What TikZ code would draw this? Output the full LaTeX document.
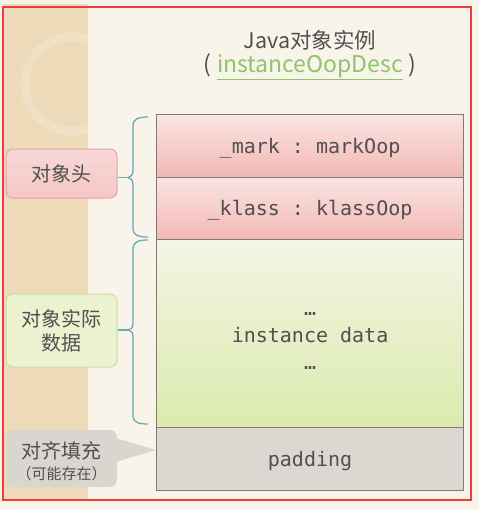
\documentclass[tikz,border=0pt]{standalone}
\usepackage{fontspec}
\setmainfont{Noto Sans CJK SC}
\setmonofont{DejaVu Sans Mono}
\usetikzlibrary{calc}
\definecolor{bg}{HTML}{F8F4EA}
\definecolor{tanstrip}{HTML}{ECDAB8}
\definecolor{ringc}{HTML}{F2E5CC}
\definecolor{frame}{HTML}{F03C3C}
\definecolor{boxline}{HTML}{7C7A76}
\definecolor{txt}{HTML}{505050}
\definecolor{pinkT}{HTML}{FBE4E2}
\definecolor{pinkB}{HTML}{F2B8B4}
\definecolor{greenT}{HTML}{F2F5E4}
\definecolor{greenB}{HTML}{DCEAAE}
\definecolor{padfill}{HTML}{DCD8D1}
\definecolor{lblpink}{HTML}{F5C6C6}
\definecolor{lblpinkline}{HTML}{E6A3A3}
\definecolor{lblgreen}{HTML}{EAF2D0}
\definecolor{lblgreenline}{HTML}{CBDF9F}
\definecolor{callfill}{HTML}{D9D5CF}
\definecolor{bracec}{HTML}{6BAAB9}
\definecolor{linkgreen}{HTML}{8DC46C}
\tikzset{
  cell/.style={draw=boxline, line width=1.1pt, minimum width=307pt, inner sep=0pt,
    font=\ttfamily\fontsize{20}{27}\selectfont, text=txt, anchor=north west, align=center},
  celltext/.style={font=\ttfamily\fontsize{20}{27}\selectfont, text=txt, align=center, inner sep=0pt},
  lbl/.style={rounded corners=7pt, minimum width=111pt, inner sep=0pt,
    font=\fontsize{20}{24}\selectfont, text=txt, align=center, line width=1pt},
  lbltext/.style={font=\fontsize{20}{24}\selectfont, text=txt, align=center, inner sep=0pt},
  bracepath/.style={draw=bracec, line width=1.3pt},
}
\begin{document}
\begin{tikzpicture}[x=1pt,y=-1pt]
\useasboundingbox (0,0) rectangle (479,509);
\fill[bg] (0,0) rectangle (479,509);
\fill[tanstrip] (3,4) rectangle (88,500);
\begin{scope}
  \clip (3,4) rectangle (88,500);
  \draw[ringc, line width=9pt, opacity=0.7] (72,84) circle (47);
\end{scope}

% title
\node[font=\fontsize{21.5}{24}\selectfont, text=txt] (title) at (310,40) {Java对象实例};
\node[font=\fontsize{23}{26}\selectfont, text=txt] (subtitle) at (310,67)
  {(\hspace{6pt}\textcolor{linkgreen}{\underline{instanceOopDesc}}\hspace{6pt})};

% main cells
\node[cell, minimum height=63pt, top color=pinkT, bottom color=pinkB] (mark) at (156,114) {};
\node[celltext] (marktxt) at ($(mark.center)+(0,2)$) {\_mark : markOop};
\node[cell, minimum height=62pt, top color=pinkT, bottom color=pinkB] (klass) at (156,177) {};
\node[celltext] (klasstxt) at ($(klass.center)+(0,2)$) {\_klass : klassOop};
\node[cell, minimum height=188pt, top color=greenT, bottom color=greenB] (data) at (156,239) {};
\node[celltext] (datatxt) at ($(data.center)+(0,7)$) {…\\instance data\\…};
\node[cell, minimum height=63pt, fill=padfill] (pad) at (156,427) {};
\node[celltext] (padtxt) at ($(pad.center)+(0,2)$) {padding};

% left labels
\node[lbl, minimum height=49pt, draw=lblpinkline, top color=pinkT!60!lblpink, bottom color=lblpink] (head) at (61.5,173.5) {对象头};
\node[lbl, minimum height=73pt, draw=lblgreenline, fill=lblgreen] (body) at (61.5,330.5) {对象实际\\数据};
\node[lbl, minimum height=57pt, fill=callfill] (fill) at (61.5,458.5) {};
\node[lbltext] (filltxt) at ($(fill.center)+(0,3)$)
  {对齐填充\\[-3pt]{\fontsize{15}{17}\selectfont （可能存在）}};
\fill[callfill] ([xshift=-2pt]fill.east |- 0,438) -- (pad.west |- 0,450) -- ([xshift=-2pt]fill.east |- 0,462) -- cycle;

% braces
\coordinate (tipA) at (128,177.5);
\coordinate (tipB) at (128,330);
\draw[bracepath] (148,117) .. controls (138,117) and (133,119) .. (133,126) -- (133,170)
  .. controls (133,175) and (131,177) .. (tipA)
  .. controls (131,178) and (133,180) .. (133,185) -- (133,229)
  .. controls (133,235) and (138,237) .. (148,237);
\draw[bracepath] (tipA -| head.east) -- (tipA);
\draw[bracepath] (148,240) .. controls (138,240) and (133,242) .. (133,249) -- (133,323)
  .. controls (133,328) and (131,329.5) .. (tipB)
  .. controls (131,330.5) and (133,332) .. (133,337) -- (133,416)
  .. controls (133,422) and (138,424) .. (148,424);
\draw[bracepath] (tipB -| body.east) -- (tipB);

% frame
\draw[frame, line width=1.5pt] (3,7) rectangle (471,500);
\end{tikzpicture}
\end{document}
